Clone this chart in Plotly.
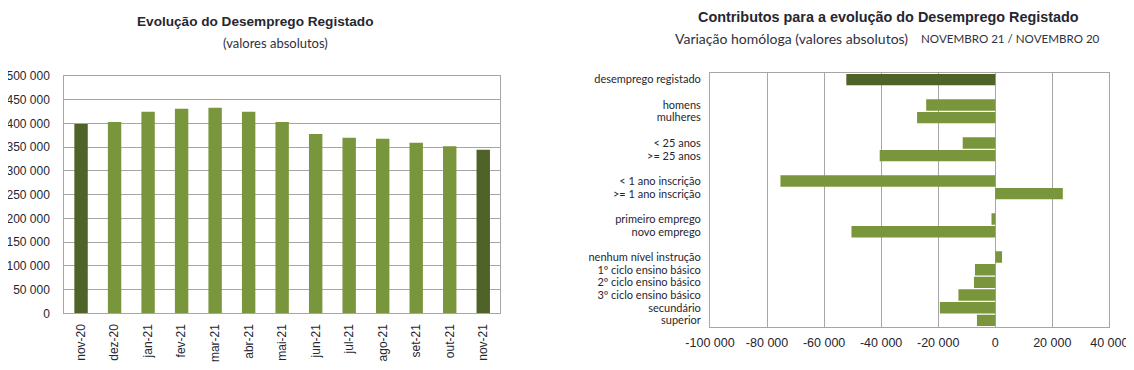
import plotly.graph_objects as go

# ---- Left chart data ----
months = ["nov-20", "dez-20", "jan-21", "fev-21", "mar-21", "abr-21", "mai-21",
          "jun-21", "jul-21", "ago-21", "set-21", "out-21", "nov-21"]
registered = [398900, 403100, 424800, 431100, 433200, 424800, 403100,
              377800, 370000, 367900, 359500, 351900, 344700]
left_yticks = [0, 50000, 100000, 150000, 200000, 250000, 300000, 350000, 400000, 450000, 500000]
left_yticktext = ["0", "50 000", "100 000", "150 000", "200 000", "250 000", "300 000",
                  "350 000", "400 000", "450 000", "500 000"]

# ---- Right chart data ----
# None marks an empty row between groups
contrib_labels = ["desemprego registado", None,
                  "homens", "mulheres", None,
                  "< 25 anos", ">= 25 anos", None,
                  "< 1 ano inscrição", ">= 1 ano inscrição", None,
                  "primeiro emprego", "novo emprego", None,
                  "nenhum nível instrução", "1º ciclo ensino básico", "2º ciclo ensino básico",
                  "3º ciclo ensino básico", "secundário", "superior"]
contrib_values = [-52200, None,
                  -24200, -27400, None,
                  -11400, -40500, None,
                  -75300, 23700, None,
                  -1300, -50400, None,
                  2400, -7100, -7450, -12900, -19400, -6400]
right_xticks = [-100000, -80000, -60000, -40000, -20000, 0, 20000, 40000]
right_xticktext = ["-100 000", "-80 000", "-60 000", "-40 000", "-20 000", "0", "20 000", "40 000"]

DARK = "#4f6228"
LIGHT = "#7a963c"
GRID = "#a6a6a6"
TXT = "#262630"
SUB = "#303040"

# page body has an 8px margin; figure starts at (8, 8) and runs to the window edge
OFF = 8
W, H = 1134 - OFF, 370 - OFF
def px_x(p): return (p - OFF) / W
def px_y(p): return 1 - (p - OFF) / H

fig = go.Figure()

left_colors = [DARK if i in (0, len(months) - 1) else LIGHT for i in range(len(months))]
fig.add_trace(go.Bar(x=months, y=registered, marker=dict(color=left_colors, line=dict(width=0)),
                     xaxis="x", yaxis="y", showlegend=False, hoverinfo="x+y"))

rows = [i for i, l in enumerate(contrib_labels) if l is not None]
vals = [contrib_values[i] for i in rows]
right_colors = [DARK if i == 0 else LIGHT for i in rows]
fig.add_trace(go.Bar(x=vals, y=rows, orientation="h", width=0.9,
                     marker=dict(color=right_colors, line=dict(width=0)),
                     xaxis="x2", yaxis="y2", showlegend=False, hoverinfo="x"))

fig.update_layout(
    width=W, height=H,
    margin=dict(l=0, r=0, t=0, b=0),
    paper_bgcolor="white", plot_bgcolor="white",
    bargap=0.6,
    font=dict(family="Liberation Sans, Arial, sans-serif", color=TXT, size=12),
    xaxis=dict(domain=[px_x(64.3), px_x(500)], anchor="y", type="category", automargin=False,
               tickangle=-90, tickfont=dict(size=12), showline=True, mirror=True,
               linecolor=GRID, linewidth=1, showgrid=False, ticks="", ticklabelstandoff=5,
               ticklabeloverflow="allow"),
    yaxis=dict(domain=[px_y(313.3), px_y(76)], anchor="x", range=[0, 500000], automargin=False,
               tickvals=left_yticks, ticktext=left_yticktext, tickfont=dict(size=12),
               showline=True, mirror=True, linecolor=GRID, linewidth=1,
               showgrid=True, gridcolor=GRID, gridwidth=1, zeroline=False,
               ticks="", ticklabelstandoff=11, ticklabeloverflow="allow"),
    xaxis2=dict(domain=[px_x(710), px_x(1109.3)], anchor="y2", range=[-100000, 40000],
                automargin=False,
                tickvals=right_xticks, ticktext=right_xticktext, tickfont=dict(size=12.5),
                showline=True, mirror=True, linecolor=GRID, linewidth=1,
                showgrid=True, gridcolor=GRID, gridwidth=1,
                zeroline=True, zerolinecolor=GRID, zerolinewidth=1, ticks="",
                ticklabelstandoff=4, ticklabeloverflow="allow"),
    yaxis2=dict(domain=[px_y(326.7), px_y(73.3)], anchor="x2", range=[19.5, -0.5],
                automargin=False,
                tickvals=rows, ticktext=[contrib_labels[i] for i in rows],
                tickfont=dict(size=11, family="Lato, Open Sans, sans-serif"),
                showline=True, mirror=True, linecolor=GRID, linewidth=1,
                showgrid=False, zeroline=False, ticks="", ticklabelstandoff=6,
                ticklabeloverflow="allow"),
)

ann = [
    dict(text="<b>Evolução do Desemprego Registado</b>", x=px_x(255), y=px_y(21.7),
         font=dict(size=13.6, family="Liberation Sans, Arial, sans-serif", color=TXT)),
    dict(text="(valores absolutos)", x=px_x(275), y=px_y(43.3),
         font=dict(size=13, family="Lato, sans-serif", color=SUB)),
    dict(text="<b>Contributos para a evolução do Desemprego Registado</b>", x=px_x(888), y=px_y(17.5),
         font=dict(size=14.4, family="Liberation Sans, Arial, sans-serif", color=TXT)),
    dict(text="Variação homóloga (valores absolutos)", x=px_x(673), y=px_y(38.3), xanchor="left",
         font=dict(size=14, family="Lato, sans-serif", color=SUB)),
    dict(text="NOVEMBRO 21 / NOVEMBRO 20", x=px_x(1102), y=px_y(38.3), xanchor="right",
         font=dict(size=11.6, family="Lato, sans-serif", color=SUB)),
]
for a in ann:
    a.setdefault("xanchor", "center")
    fig.add_annotation(xref="paper", yref="paper", showarrow=False, yanchor="middle", **a)

fig.write_html("out.html")
